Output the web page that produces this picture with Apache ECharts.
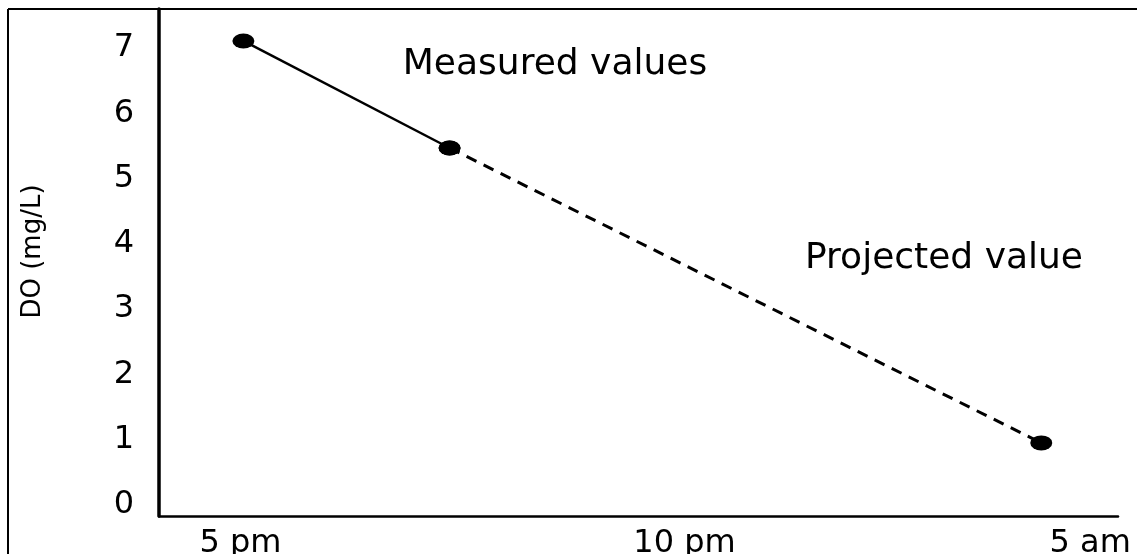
<!DOCTYPE html>
<html>
<head>
<meta charset="utf-8">
<script src="https://cdn.jsdelivr.net/npm/echarts@6/dist/echarts.min.js"></script>
<style>
  html, body { margin: 0; padding: 0; background: #fff; }
  #main { width: 1137px; height: 554px; }
</style>
</head>
<body>
<div id="main"></div>
<script>
  // x is a schematic time position along the axis (0 = axis start, 10 = axis end)
  const timeTicks = [0.85, 5.48, 9.71]
  const timeLabels = ['5 pm', '10 pm', '5 am']
  const doTicks = [0, 1, 2, 3, 4, 5, 6, 7]

  // measured DO (mg/L)
  const measuredX = [0.88, 3.03]
  const measuredDO = [7.11, 5.47]
  // projected DO (mg/L)
  const projectedX = [3.03, 9.2]
  const projectedDO = [5.47, 0.95]

  const font = 'DejaVu Sans'

  const chartDom = document.getElementById('main')
  const myChart = echarts.init(chartDom)

  function timeLabel(v) {
      let best = 0
      for (let i = 1; i < timeTicks.length; i++) {
          if (Math.abs(timeTicks[i] - v) < Math.abs(timeTicks[best] - v)) best = i
      }
      return timeLabels[best]
  }

  const option = {
      animation: false,
      backgroundColor: '#fff',
      grid: {
          left: 159,
          right: 19,
          top: 9,
          bottom: 38,
          // keep the plot area fixed, labels may reach the page edge
          outerBoundsMode: 'none'
      },
      xAxis: {
          type: 'value',
          min: 0,
          max: 10,
          axisLine: {
              show: true,
              onZero: false,
              lineStyle: { color: '#000', width: 2.5 }
          },
          axisTick: { show: false },
          splitLine: { show: false },
          axisLabel: {
              customValues: timeTicks,
              formatter: timeLabel,
              color: '#000',
              fontSize: 32,
              fontFamily: font,
              margin: 12
          }
      },
      yAxis: {
          type: 'value',
          min: -0.17,
          max: 7.6,
          name: 'DO (mg/L)',
          nameLocation: 'middle',
          nameGap: 113,
          nameTextStyle: {
              color: '#000',
              fontSize: 26,
              fontFamily: font,
              // nudge the rotated title a bit above the axis middle
              padding: [0, 0, 0, 22]
          },
          axisLine: {
              show: true,
              lineStyle: { color: '#000', width: 3.5 }
          },
          axisTick: { show: false },
          splitLine: { show: false },
          axisLabel: {
              customValues: doTicks,
              color: '#000',
              fontSize: 32,
              fontFamily: font,
              margin: 25
          }
      },
      graphic: [
          // outer frame (top and left)
          { type: 'line', shape: { x1: 8, y1: 9, x2: 1137, y2: 9 }, style: { stroke: '#000', lineWidth: 2 } },
          { type: 'line', shape: { x1: 8, y1: 9, x2: 8, y2: 554 }, style: { stroke: '#000', lineWidth: 2 } },
          {
              type: 'text', x: 555, y: 65,
              style: { text: 'Measured values', fill: '#000', fontSize: 36, fontFamily: font, align: 'center', verticalAlign: 'middle' }
          },
          {
              type: 'text', x: 944, y: 259,
              style: { text: 'Projected value', fill: '#000', fontSize: 36, fontFamily: font, align: 'center', verticalAlign: 'middle' }
          }
      ],
      series: [{
              name: 'Projected value',
              type: 'line',
              data: projectedX.map((x, i) => [x, projectedDO[i]]),
              symbol: 'circle',
              symbolSize: [22, 15],
              itemStyle: { color: '#000' },
              lineStyle: { color: '#000', width: 3, type: [11, 8] }
          },
          {
              name: 'Measured values',
              type: 'line',
              data: measuredX.map((x, i) => [x, measuredDO[i]]),
              symbol: 'circle',
              symbolSize: [22, 15],
              itemStyle: { color: '#000' },
              lineStyle: { color: '#000', width: 2.5 }
          }
      ]
  }

  myChart.setOption(option)
</script>
</body>
</html>
